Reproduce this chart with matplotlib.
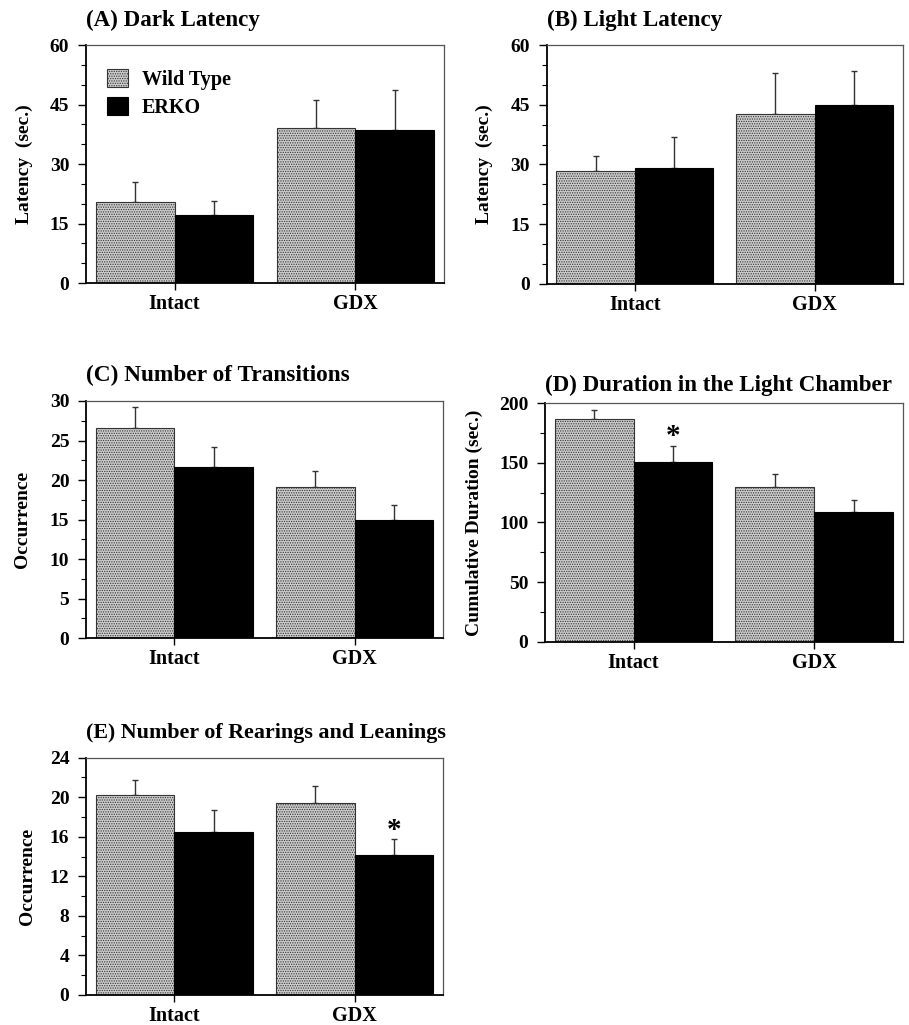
import numpy as np
import matplotlib
matplotlib.use("Agg")
import matplotlib.pyplot as plt
from matplotlib.ticker import MultipleLocator

plt.rcParams['font.family'] = ['Liberation Serif', 'DejaVu Serif']
plt.rcParams['font.weight'] = 'bold'
plt.rcParams['hatch.linewidth'] = 0.6

groups = ['Intact', 'GDX']
series = ['Wild Type', 'ERKO']

# means and upper error (value at top of error bar minus mean)
dark_wt = [20.4, 39.1]
dark_wt_err = [5.0, 7.1]
dark_ko = [17.1, 38.6]
dark_ko_err = [3.7, 10.0]

light_wt = [28.3, 42.6]
light_wt_err = [3.8, 10.4]
light_ko = [29.1, 45.0]
light_ko_err = [7.8, 8.4]

trans_wt = [26.6, 19.1]
trans_wt_err = [2.7, 2.05]
trans_ko = [21.7, 14.9]
trans_ko_err = [2.45, 1.9]

dur_wt = [187.0, 129.4]
dur_wt_err = [7.0, 11.2]
dur_ko = [150.6, 108.4]
dur_ko_err = [13.8, 10.6]

rear_wt = [20.2, 19.45]
rear_wt_err = [1.5, 1.7]
rear_ko = [16.5, 14.15]
rear_ko_err = [2.2, 1.65]

panels = [
    # title, ylabel, wt, wt_err, ko, ko_err, ymax, major, minor, stars(group idx, y),
    # ylabel x, title offset, title size
    ('(A) Dark Latency', 'Latency  (sec.)', dark_wt, dark_wt_err, dark_ko, dark_ko_err,
     60, 15, 5, [], -0.148, 0.082, 16.6),
    ('(B) Light Latency', 'Latency  (sec.)', light_wt, light_wt_err, light_ko, light_ko_err,
     60, 15, 5, [], -0.150, 0.082, 16.6),
    ('(C) Number of Transitions', 'Occurrence', trans_wt, trans_wt_err, trans_ko, trans_ko_err,
     30, 5, 2.5, [], -0.154, 0.082, 16.8),
    ('(D) Duration in the Light Chamber', 'Cumulative Duration (sec.)', dur_wt, dur_wt_err,
     dur_ko, dur_ko_err, 200, 50, 25, [(0, 172)], -0.173, 0.052, 16.6),
    ('(E) Number of Rearings and Leanings', 'Occurrence', rear_wt, rear_wt_err, rear_ko, rear_ko_err,
     24, 4, 2, [(1, 16.6)], -0.140, 0.082, 15.8),
]

rects = [
    [0.0946, 0.7239, 0.3938, 0.2321],
    [0.6014, 0.7232, 0.3916, 0.2328],
    [0.0946, 0.3773, 0.3927, 0.2315],
    [0.5996, 0.3740, 0.3934, 0.2325],
    [0.0946, 0.0293, 0.3927, 0.2315],
]

fig = plt.figure(figsize=(9.09, 10.25), dpi=100)

x = np.arange(len(groups))
w = 0.436

for i, (title, ylab, wt, wte, ko, koe, ymax, major, minor, stars, ylx, toff, tsize) in enumerate(panels):
    ax = fig.add_axes(rects[i])
    b1 = ax.bar(x - w / 2, wt, w, color='#cccccc', edgecolor='#333333', hatch='.......',
                linewidth=0.8, label=series[0], zorder=2)
    b2 = ax.bar(x + w / 2, ko, w, color='black', edgecolor='black', linewidth=0.8,
                label=series[1], zorder=2)
    ax.errorbar(x - w / 2, wt, yerr=[np.zeros(len(wt)), wte], fmt='none', ecolor='#333333',
                elinewidth=1.0, capsize=2.5, capthick=1.0, zorder=1)
    ax.errorbar(x + w / 2, ko, yerr=[np.zeros(len(ko)), koe], fmt='none', ecolor='#333333',
                elinewidth=1.0, capsize=2.5, capthick=1.0, zorder=1)
    for g, ys in stars:
        ax.text(x[g] + w / 2, ys, '*', ha='center', va='center', fontsize=21, fontweight='bold')

    ax.set_xlim(-0.49, 1.49)
    ax.set_ylim(0, ymax)
    ax.set_xticks(x)
    ax.set_xticklabels(groups, fontsize=14.5, fontweight='bold')
    ax.yaxis.set_major_locator(MultipleLocator(major))
    ax.yaxis.set_minor_locator(MultipleLocator(minor))
    ax.tick_params(axis='y', which='major', direction='out', length=6, width=1.0,
                   labelsize=14, pad=6)
    ax.tick_params(axis='y', which='minor', direction='out', length=3.5, width=0.8)
    ax.tick_params(axis='x', which='major', direction='out', length=5, width=1.0, pad=3)
    for lab in ax.get_yticklabels():
        lab.set_fontweight('bold')

    ax.set_ylabel(ylab, fontsize=14, fontweight='bold')
    ax.yaxis.set_label_coords(ylx, 0.5)
    ax.text(0.0, 1.0 + toff, title, transform=ax.transAxes, ha='left', va='baseline',
            fontsize=tsize, fontweight='bold')

    ax.spines['left'].set_linewidth(1.3)
    ax.spines['bottom'].set_linewidth(1.3)
    for s in ['top', 'right']:
        ax.spines[s].set_linewidth(0.9)
        ax.spines[s].set_color('#555555')

    if i == 0:
        ax.legend(handles=[b1, b2], labels=series, loc='upper left',
                  bbox_to_anchor=(0.06, 0.9), frameon=False,
                  handlelength=1.0, handleheight=1.0, handletextpad=0.7,
                  labelspacing=0.35, borderpad=0.0, borderaxespad=0.0,
                  prop={'weight': 'bold', 'size': 14.5})

fig.savefig('out.png', dpi=100)
